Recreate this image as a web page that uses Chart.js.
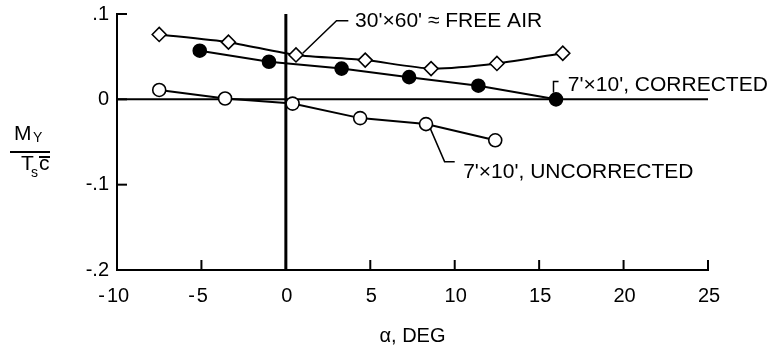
<!DOCTYPE html>
<html>
<head>
<meta charset="utf-8">
<script src="https://cdn.jsdelivr.net/npm/chart.js@4.4.1/dist/chart.umd.min.js"></script>
<style>
  body { margin: 0; background: #fff; }
  canvas { display: block; }
</style>
</head>
<body>
<canvas id="chartArea" width="775" height="354"></canvas>
<script>
// values (alpha in deg, My/(Ts c))
const alphaFreeAir = [-7.5, -3.4, 0.6, 4.7, 8.6, 12.5, 16.4];
const myFreeAir = [0.076, 0.067, 0.052, 0.046, 0.036, 0.042, 0.054];
const alphaCorrected = [-5.1, -1.0, 3.3, 7.3, 11.4, 16.0];
const myCorrected = [0.057, 0.044, 0.036, 0.026, 0.016, 0.0];
const alphaUncorrected = [-7.5, -3.6, 0.4, 4.4, 8.3, 12.4];
const myUncorrected = [0.011, 0.001, -0.005, -0.022, -0.029, -0.048];

const xTicks = [-10, -5, 0, 5, 10, 15, 20, 25];
const yTicks = [0.1, 0, -0.1, -0.2];
const yTickLabels = [".1", "0", "-.1", "-.2"];

const pts = (xs, ys) => xs.map((v, i) => ({x: v, y: ys[i]}));
const font = '"Liberation Sans", Arial, sans-serif';

(function(){
    const chartCanvas = document.getElementById("chartArea");

    // drawn-on-paper look: inward ticks, hand placed labels, leaders
    const paperPlugin = {
        id: "paper",
        afterDraw(chart) {
            const {ctx, scales: {x, y}, chartArea} = chart;
            const px = v => x.getPixelForValue(v);
            const py = v => y.getPixelForValue(v);
            ctx.save();
            ctx.strokeStyle = "#000";
            ctx.fillStyle = "#000";
            ctx.lineWidth = 2;

            // ticks pointing into the plot
            xTicks.forEach(v => {
                ctx.beginPath();
                ctx.moveTo(px(v), chartArea.bottom);
                ctx.lineTo(px(v), chartArea.bottom - 10);
                ctx.stroke();
            });
            yTicks.forEach(v => {
                ctx.beginPath();
                ctx.moveTo(chartArea.left, py(v));
                ctx.lineTo(chartArea.left + 10, py(v));
                ctx.stroke();
            });

            // tick labels, minus sign hangs left of the digits
            ctx.font = "20px " + font;
            ctx.textBaseline = "middle";
            xTicks.forEach(v => {
                const digits = String(Math.abs(v));
                ctx.textAlign = "center";
                ctx.fillText(digits, px(v) + 1, chartArea.bottom + 26);
                if (v < 0) {
                    const w = ctx.measureText(digits).width;
                    ctx.textAlign = "right";
                    ctx.fillText("-", px(v) + 1 - w / 2 - 2, chartArea.bottom + 26);
                }
            });
            ctx.textAlign = "right";
            yTicks.forEach((v, i) => ctx.fillText(yTickLabels[i], chartArea.left - 8, py(v)));

            // axis titles
            ctx.textAlign = "center";
            ctx.fillText("\u03b1, DEG", (chartArea.left + chartArea.right) / 2, 336);

            ctx.textAlign = "left";
            ctx.textBaseline = "alphabetic";
            ctx.font = "21px " + font;
            ctx.fillText("M", 14, 140);
            ctx.fillText("T", 21, 170);
            ctx.fillText("c", 39, 170);
            ctx.font = "14px " + font;
            ctx.fillText("Y", 33, 142);
            ctx.fillText("s", 31, 177);
            ctx.beginPath();
            ctx.moveTo(10, 152); ctx.lineTo(50, 152);
            ctx.moveTo(39, 157); ctx.lineTo(50, 157);
            ctx.stroke();

            // curve labels with leaders (data units)
            const notes = [
                {text: "30'\u00d760' \u2248 FREE AIR", at: [4.1, 0.092], leader: [[1.0, 0.054], [3.0, 0.092], [3.7, 0.092]]},
                {text: "7'\u00d710', CORRECTED", at: [16.7, 0.017], leader: [[15.85, 0.008], [15.85, 0.021], [16.15, 0.021]]},
                {text: "7'\u00d710', UNCORRECTED", at: [10.5, -0.085], leader: [[8.55, -0.034], [9.4, -0.073], [10.0, -0.073]]}
            ];
            ctx.font = "21px " + font;
            ctx.textBaseline = "middle";
            ctx.lineWidth = 1.5;
            notes.forEach(n => {
                ctx.beginPath();
                n.leader.forEach((p, i) => i ? ctx.lineTo(px(p[0]), py(p[1])) : ctx.moveTo(px(p[0]), py(p[1])));
                ctx.stroke();
                ctx.fillText(n.text, px(n.at[0]), py(n.at[1]));
            });
            ctx.restore();
        }
    };

    const chart = new Chart(chartCanvas, {
        type: "scatter",
        data: {
            datasets: [{
                label: "7'x10', uncorrected",
                data: pts(alphaUncorrected, myUncorrected),
                showLine: true,
                borderColor: "#000",
                borderWidth: 2,
                pointStyle: "circle",
                pointRadius: 6.5,
                pointBackgroundColor: "#fff",
                pointBorderColor: "#000",
                pointBorderWidth: 1.6
            }, {
                label: "7'x10', corrected",
                data: pts(alphaCorrected, myCorrected),
                showLine: true,
                borderColor: "#000",
                borderWidth: 2,
                pointStyle: "circle",
                pointRadius: 6.3,
                pointBackgroundColor: "#000",
                pointBorderColor: "#000"
            }, {
                label: "30'x60' free air",
                data: pts(alphaFreeAir, myFreeAir),
                showLine: true,
                tension: 0.2,
                borderColor: "#000",
                borderWidth: 2,
                pointStyle: "rectRot",
                pointRadius: 7,
                pointBackgroundColor: "#fff",
                pointBorderColor: "#000",
                pointBorderWidth: 1.6
            }, {
                label: "zero",
                data: [{x: xTicks[0], y: 0}, {x: xTicks[xTicks.length - 1], y: 0}],
                showLine: true,
                borderColor: "#000",
                borderWidth: 2,
                pointRadius: 0
            }, {
                label: "alpha zero",
                data: [{x: 0, y: yTicks[yTicks.length - 1]}, {x: 0, y: yTicks[0]}],
                showLine: true,
                borderColor: "#000",
                borderWidth: 3,
                pointRadius: 0
            }]
        },
        options: {
            responsive: false,
            animation: false,
            events: [],
            layout: { padding: { left: 117, right: 67, top: 14, bottom: 84 } },
            plugins: {
                legend: { display: false },
                tooltip: { enabled: false }
            },
            scales: {
                x: {
                    type: "linear",
                    min: -10, max: 25,
                    ticks: { display: false },
                    grid: { display: false, drawTicks: false, tickLength: 0 },
                    border: { display: true, color: "#000", width: 2 }
                },
                y: {
                    type: "linear",
                    min: -0.2, max: 0.1,
                    ticks: { display: false },
                    grid: { display: false, drawTicks: false, tickLength: 0 },
                    border: { display: true, color: "#000", width: 2 }
                }
            }
        },
        plugins: [paperPlugin]
    });
})();
</script>
</body>
</html>
